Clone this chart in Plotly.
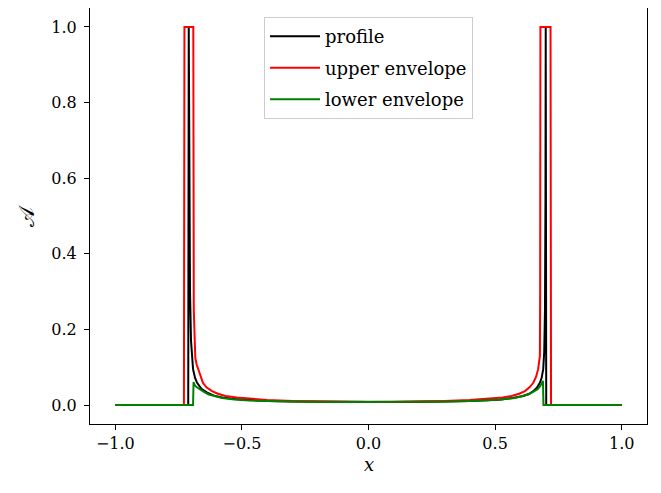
import plotly.graph_objects as go

# ---- data ----
profile_x = [-1.0, -0.712, -0.710, -0.708, -0.705, -0.701, -0.697, -0.693, -0.685, -0.677,
             -0.660, -0.637, -0.610, -0.578, -0.530, -0.472, -0.400, -0.300, -0.200, -0.100,
             0.0, 0.100, 0.200, 0.300, 0.400, 0.472, 0.525, 0.570, 0.611, 0.635,
             0.651, 0.665, 0.677, 0.684, 0.690, 0.694, 0.697, 0.699, 0.700, 0.702, 1.0]
profile_y = [0.0, 0.0, 1.0, 0.60, 0.30, 0.17, 0.12, 0.095, 0.072, 0.059,
             0.043, 0.033, 0.025, 0.020, 0.016, 0.013, 0.011, 0.0095, 0.0088, 0.0084,
             0.0083, 0.0084, 0.0088, 0.0095, 0.011, 0.013, 0.015, 0.019, 0.024, 0.030,
             0.037, 0.046, 0.059, 0.072, 0.095, 0.14, 0.25, 0.55, 1.0, 0.0, 0.0]

upper_x = [-1.0, -0.729, -0.727, -0.692, -0.690, -0.687, -0.684, -0.679, -0.673, -0.664,
           -0.654, -0.640, -0.618, -0.595, -0.565, -0.520, -0.472, -0.400, -0.300, -0.200,
           -0.100, 0.0, 0.100, 0.200, 0.300, 0.400, 0.486, 0.530, 0.565, 0.595,
           0.618, 0.636, 0.651, 0.662, 0.670, 0.674, 0.677, 0.678, 0.679, 0.719, 0.721, 1.0]
upper_y = [0.0, 0.0, 1.0, 1.0, 0.25, 0.14, 0.125, 0.108, 0.095, 0.075,
           0.059, 0.047, 0.037, 0.030, 0.024, 0.020, 0.017, 0.0135, 0.0108, 0.0094,
           0.0087, 0.0085, 0.0087, 0.0094, 0.0108, 0.0135, 0.017, 0.020, 0.024, 0.030,
           0.037, 0.047, 0.059, 0.075, 0.095, 0.11, 0.13, 0.30, 1.0, 1.0, 0.0, 0.0]

lower_x = [-1.0, -0.693, -0.691, -0.686, -0.678, -0.665, -0.650, -0.631, -0.605, -0.578,
           -0.530, -0.472, -0.400, -0.300, -0.200, -0.100, 0.0, 0.100, 0.200, 0.300,
           0.400, 0.459, 0.511, 0.578, 0.605, 0.631, 0.650, 0.668, 0.678, 0.686,
           0.689, 0.691, 1.0]
lower_y = [0.0, 0.0, 0.061, 0.052, 0.047, 0.041, 0.035, 0.028, 0.023, 0.019,
           0.015, 0.012, 0.0105, 0.009, 0.0085, 0.0082, 0.0081, 0.0082, 0.0085, 0.009,
           0.0105, 0.012, 0.014, 0.019, 0.023, 0.028, 0.035, 0.042, 0.050, 0.058,
           0.064, 0.0, 0.0]

x_ticks = [-1.0, -0.5, 0.0, 0.5, 1.0]
x_tick_text = ["\u22121.0", "\u22120.5", "0.0", "0.5", "1.0"]
y_ticks = [0.0, 0.2, 0.4, 0.6, 0.8, 1.0]
y_tick_text = ["0.0", "0.2", "0.4", "0.6", "0.8", "1.0"]

FONT = "DejaVu Serif"

fig = go.Figure()
fig.add_trace(go.Scatter(x=profile_x, y=profile_y, mode="lines", name="profile",
                         line=dict(color="black", width=2), legendgroup="a"))
fig.add_trace(go.Scatter(x=upper_x, y=upper_y, mode="lines", name="upper envelope",
                         line=dict(color="red", width=2), legendgroup="b"))
fig.add_trace(go.Scatter(x=lower_x, y=lower_y, mode="lines", name="lower envelope",
                         line=dict(color="green", width=2), legendgroup="c"))

axis_common = dict(showline=True, mirror=True, linecolor="black", linewidth=1.1,
                   ticks="outside", ticklen=5, tickwidth=1.1, tickcolor="black",
                   showgrid=False, zeroline=False, automargin=False,
                   tickfont=dict(family=FONT, size=16, color="black"))

fig.update_xaxes(range=[-1.1, 1.1], tickvals=x_ticks, ticktext=x_tick_text, **axis_common)
fig.update_yaxes(range=[-0.05, 1.05], tickvals=y_ticks, ticktext=y_tick_text,
                 ticklabelstandoff=4, **axis_common)

fig.add_annotation(text="<i>x</i>", xref="paper", yref="paper", x=0.5, y=-0.098,
                   xanchor="center", yanchor="middle", showarrow=False,
                   font=dict(family=FONT, size=18, color="black"))
fig.add_annotation(text="\U0001D49C", xref="paper", yref="paper", x=-0.113, y=0.5,
                   xanchor="center", yanchor="middle", showarrow=False, textangle=-90,
                   font=dict(family=FONT, size=21, color="black"))

fig.update_layout(
    width=645, height=477,
    margin=dict(l=82, r=6, t=0, b=61),
    paper_bgcolor="white", plot_bgcolor="white",
    showlegend=True,
    legend=dict(x=0.5, y=0.978, xanchor="center", yanchor="top",
                bgcolor="rgba(255,255,255,0.8)", bordercolor="#cccccc", borderwidth=1,
                font=dict(family=FONT, size=18, color="black"),
                tracegroupgap=5, itemwidth=50),
    font=dict(family=FONT),
)

fig.write_html("out.html")
